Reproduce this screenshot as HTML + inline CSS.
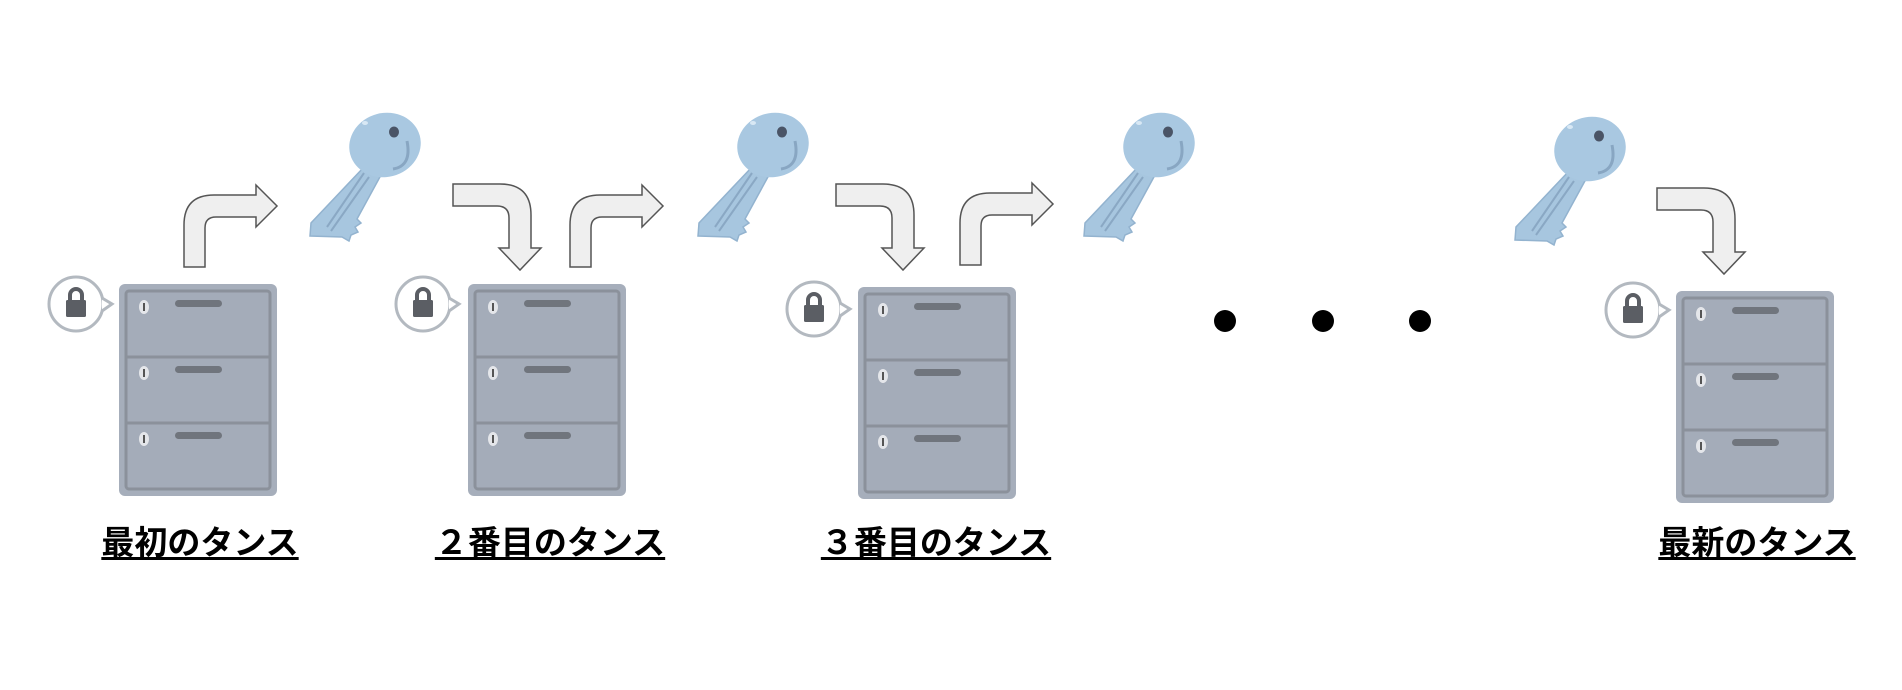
<!DOCTYPE html>
<html><head><meta charset="utf-8"><style>
html,body{margin:0;padding:0;background:#fff;width:1902px;height:690px;overflow:hidden;position:relative}
.lb{position:absolute;top:523px;width:300px;text-align:center;font-family:"Liberation Sans","Noto Sans CJK JP",sans-serif;font-weight:bold;font-size:33px;line-height:40px;color:#000;text-decoration:underline;text-decoration-thickness:3px;text-underline-offset:3px}
svg{position:absolute;left:0;top:0}
</style></head><body>
<svg width="1902" height="690" viewBox="0 0 1902 690">
<defs>
<g id="cab">
 <rect x="0" y="0" width="158" height="212" rx="6" fill="#a6aebb"/>
 <rect x="7" y="7" width="144" height="198" rx="3" fill="#a4acb9" stroke="#8b919b" stroke-width="3"/>
 <line x1="7" y1="73" x2="151" y2="73" stroke="#8b919b" stroke-width="3"/>
 <line x1="7" y1="139" x2="151" y2="139" stroke="#8b919b" stroke-width="3"/>
 <g id="dr"><ellipse cx="25" cy="23" rx="5" ry="7" fill="#e4e6ea"/><line x1="25" y1="19" x2="25" y2="27" stroke="#555" stroke-width="2"/>
 <rect x="56" y="16" width="47" height="7" rx="3.5" fill="#70757d"/></g>
 <use href="#dr" y="66"/><use href="#dr" y="132"/>
</g>
<g id="lock">
 <circle cx="0" cy="0" r="27" fill="#fff" stroke="#b3b9c0" stroke-width="3"/>
 <path d="M26,-6 L36,0 L26,7" fill="#fff" stroke="#b3b9c0" stroke-width="3"/>
 <rect x="-10" y="-4" width="20" height="17" rx="1.5" fill="#5b5e64"/>
 <path d="M-6,-4 L-6,-9 A6,6 0 0 1 6,-9 L6,-4" fill="none" stroke="#5b5e64" stroke-width="4"/>
</g>
<g id="key">
 <path d="M56,55 L72,64 L48,108 L52,112 L46,116 L49,121 L42,124 L40,130 L33,126 L1,125 L2,112 Z" fill="#a7c6df" stroke="#93b3cf" stroke-width="1.5"/>
 <line x1="60" y1="66" x2="22" y2="120" stroke="#8aa8c4" stroke-width="2"/>
 <line x1="55" y1="62" x2="18" y2="116" stroke="#8aa8c4" stroke-width="2"/>
 <ellipse cx="76" cy="34" rx="36" ry="32" transform="rotate(-15 76 34)" fill="#a9c8e1"/>
 <path d="M98,30 Q103,55 84,58" fill="none" stroke="#88a6c2" stroke-width="3"/>
 <ellipse cx="85" cy="21" rx="5" ry="5.5" fill="#4a5466"/>
 <ellipse cx="56" cy="12" rx="3" ry="2" fill="#d8e8f4"/>
</g>
<path id="up" d="M184,267 L184,225 Q184,195 214,195 L256,195 L256,185 L277,206 L256,227 L256,217 L216,217 Q205,217 205,228 L205,267 Z" fill="#efefef" stroke="#555" stroke-width="1.5"/>
<path id="dn" d="M453,184 L500,184 Q531,184 531,215 L531,248 L541,248 L520,270 L499,248 L509,248 L509,218 Q509,206 497,206 L453,206 Z" fill="#efefef" stroke="#555" stroke-width="1.5"/>
</defs>
<use href="#cab" x="119" y="284"/>
<use href="#cab" x="468" y="284"/>
<use href="#cab" x="858" y="287"/>
<use href="#cab" x="1676" y="291"/>
<use href="#lock" x="76" y="304"/>
<use href="#lock" x="423" y="304"/>
<use href="#lock" x="814" y="309"/>
<use href="#lock" x="1633" y="310"/>
<use href="#key" x="309" y="111"/>
<use href="#key" x="697" y="111"/>
<use href="#key" x="1083" y="111"/>
<use href="#key" x="1514" y="115"/>
<use href="#up" x="0" y="0"/>
<use href="#up" x="386" y="0"/>
<use href="#up" x="776" y="-2"/>
<use href="#dn" x="0" y="0"/>
<use href="#dn" x="383" y="0"/>
<use href="#dn" x="1204" y="4"/>
<circle cx="1225" cy="321" r="11" fill="#000"/>
<circle cx="1323" cy="321" r="11" fill="#000"/>
<circle cx="1420" cy="321" r="11" fill="#000"/>
</svg>
<div class="lb" style="left:50px">最初のタンス</div>
<div class="lb" style="left:400px">２番目のタンス</div>
<div class="lb" style="left:786px">３番目のタンス</div>
<div class="lb" style="left:1607px">最新のタンス</div>
</body></html>
